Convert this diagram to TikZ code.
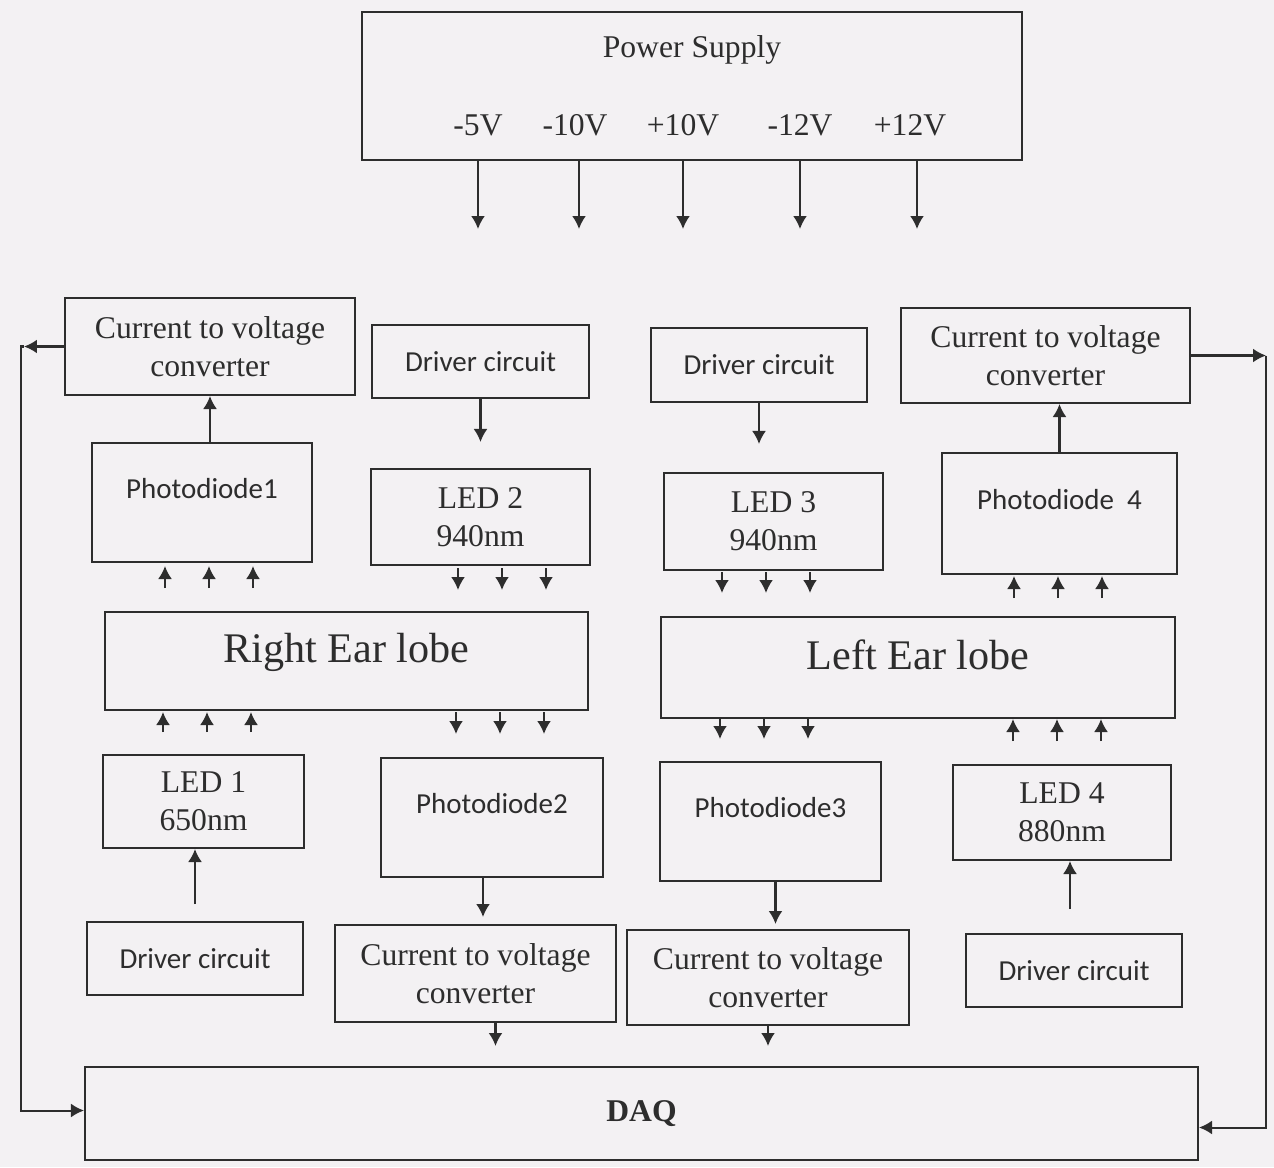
\documentclass[tikz,border=0pt]{standalone}
\usepackage{fontspec}
\setmainfont{Liberation Serif}
\newfontfamily\drvfont{Carlito}
\usetikzlibrary{arrows.meta,calc,positioning}
\definecolor{paper}{RGB}{243,241,243}
\definecolor{ink}{RGB}{45,45,45}
\tikzset{
  sz/.style 2 args={minimum width=#1*0.2mm,minimum height=#2*0.2mm},
  blk/.style={draw=ink,line width=1.15pt,align=center,inner sep=0pt,text=ink,
        font=\fontsize{18}{21.5}\selectfont},
  drvBox/.style={blk,font=\drvfont\fontsize{16.5}{20}\selectfont},
  pdBox/.style={drvBox,text height=3.7mm,text depth=5.4mm},
  lobeBox/.style={blk,font=\fontsize{24}{28}\selectfont,
        text height=5.8mm,text depth=5.1mm},
  daqBox/.style={blk,font=\fontsize{18}{21.5}\selectfont\bfseries},
  txt/.style={inner sep=0pt,text=ink,font=\fontsize{18}{21.5}\selectfont},
  arr/.style={draw=ink,line width=1.15pt,-{Latex[length=2.6mm,width=2.8mm]}},
}
\begin{document}
\begin{tikzpicture}[x=0.2mm,y=-0.2mm]
\fill[paper] (0,0) rectangle (1274,1167);
\useasboundingbox (0,0) rectangle (1274,1167);
% power supply
\node[blk,sz={660}{148}] (ps) at (692,86) {};
\node[txt] (pstitle) at (692,50) {Power Supply};
\node[txt] (vm5)  at (478,125) {-5V};
\node[txt] (vm10) at (575,125) {-10V};
\node[txt] (vp10) at (683,125) {+10V};
\node[txt] (vm12) at (800,125) {-12V};
\node[txt] (vp12) at (910,125) {+12V};
\foreach \v/\dx in {vm5/0,vm10/4,vp10/0,vm12/0,vp12/7}
  \draw[arr] ($(\v |- ps.south)+(\dx,0)$) -- ++(0,68);
% upper row
\node[blk,sz={290}{97}]    (ctv1) at (210,346.5)   {Current to voltage\\converter};
\node[drvBox,sz={217}{73}] (drv2) at (480.5,361.5) {Driver circuit};
\node[drvBox,sz={216}{74}] (drv3) at (759,365)     {Driver circuit};
\node[blk,sz={289}{95}]    (ctv4) at (1045.5,355.5){Current to voltage\\converter};
\node[pdBox,sz={220}{119}] (pd1)  at (202,502.5)   {Photodiode1};
\node[blk,sz={219}{96}]    (led2) at (480.5,517)   {LED 2\\940nm};
\node[blk,sz={219}{97}]    (led3) at (773.5,521.5) {LED 3\\940nm};
\node[pdBox,sz={235}{121}] (pd4)  at (1059.5,513.5){Photodiode\ \ 4};
% ear lobes
\node[lobeBox,sz={483}{98}]  (rlobe) at (346.5,661) {Right Ear lobe};
\node[lobeBox,sz={514}{101}] (llobe) at (918,667.5) {Left Ear lobe};
% lower row
\node[blk,sz={201}{93}]    (led1) at (203.5,801.5) {LED 1\\650nm};
\node[pdBox,sz={222}{119}] (pd2)  at (492,817.5)   {Photodiode2};
\node[pdBox,sz={221}{119}] (pd3)  at (770.5,821.5) {Photodiode3};
\node[blk,sz={218}{95}]    (led4) at (1062,812.5)  {LED 4\\880nm};
\node[drvBox,sz={216}{73}] (drv1) at (195,958.5)   {Driver circuit};
\node[blk,sz={281}{97}]    (ctv2) at (475.5,973.5) {Current to voltage\\converter};
\node[blk,sz={282}{95}]    (ctv3) at (768,977.5)   {Current to voltage\\converter};
\node[drvBox,sz={216}{73}] (drv4) at (1074,970.5)  {Driver circuit};
\node[daqBox,sz={1113}{93}] (daq) at (641.5,1113.5) {DAQ};
% taps off the lower boxes
\coordinate (pd2out)  at ($(pd2.south)+(-9,0)$);
\coordinate (pd3out)  at ($(pd3.south)+(5,0)$);
\coordinate (drv4out) at ($(drv4.north)+(-4,0)$);
\coordinate (ctv2out) at ($(ctv2.south)+(20,0)$);
% links between blocks
\draw[arr,shorten >=5.2mm] (drv2.south) -- (drv2.south |- led2.north);
\draw[arr,shorten >=5.6mm] (drv3.south) -- (drv3.south |- led3.north);
\draw[arr] (ctv1.south |- pd1.north) -- (ctv1.south);
\draw[arr] (pd4.north) -- (pd4.north |- ctv4.south);
\draw[arr,shorten <=3.4mm] (drv1.north) -- (drv1.north |- led1.south);
\draw[arr,shorten >=1.4mm] (pd2out) -- (pd2out |- ctv2.north);
\draw[arr,shorten >=1.0mm] (pd3out) -- (pd3out |- ctv3.north);
\draw[arr,shorten <=4.8mm] (drv4out) -- (drv4out |- led4.south);
\draw[arr,shorten >=4mm] (ctv2out) -- (ctv2out |- daq.north);
\draw[arr,shorten >=4mm] (ctv3.south) -- (ctv3.south |- daq.north);
% light through the lobes
\foreach \dx in {-44,0,44} {
  \draw[arr] ($(pd1.south)+(\dx+7,25)$) -- ++(0,-22);
  \draw[arr] ($(led2.south)+(\dx+21.5,2)$) -- ++(0,22);
  \draw[arr] ($(led3.south)+(\dx-7.5,1)$) -- ++(0,21);
  \draw[arr] ($(pd4.south)+(\dx-1.5,23)$) -- ++(0,-22);
  \draw[arr] ($(rlobe.south)+(\dx-139.5,21)$) -- ++(0,-20);
  \draw[arr] ($(rlobe.south)+(\dx+153.5,1)$) -- ++(0,22);
  \draw[arr] ($(llobe.south)+(\dx-154,0)$) -- ++(0,20);
  \draw[arr] ($(llobe.south)+(\dx+139,22)$) -- ++(0,-22);
}
% feedback to DAQ
\draw[arr] (ctv1.west) -- ++(-40,0) coordinate (fbl);
\draw[arr] (fbl) -- ++(-3,0) |- ($(daq.west)+(0,-3)$);
\draw[arr] (ctv4.east) -- ++(75,0) coordinate (fbr);
\draw[arr] (fbr) |- ($(daq.east)+(0,14)$);
\end{tikzpicture}
\end{document}
